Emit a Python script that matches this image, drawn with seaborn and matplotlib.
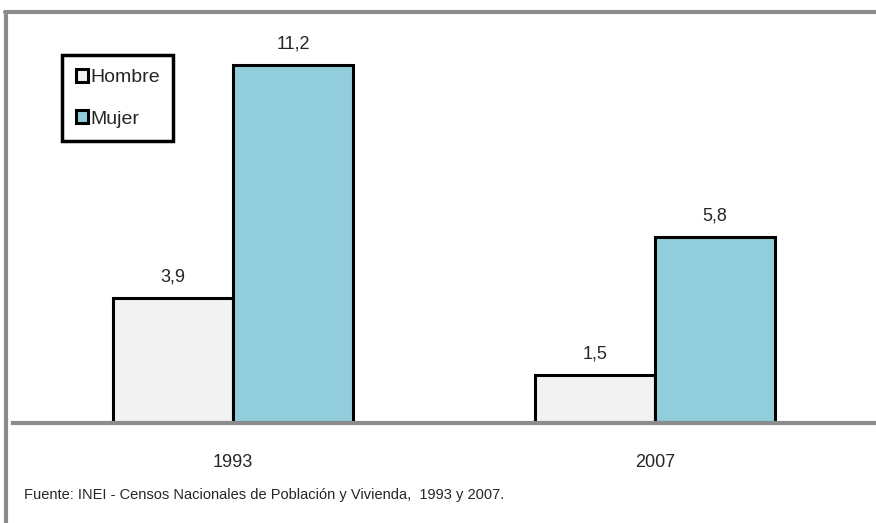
import pandas as pd
import matplotlib.pyplot as plt
import seaborn as sns
from matplotlib.lines import Line2D
from matplotlib.patches import Patch

years = ["1993", "2007"]
sexes = ["Hombre", "Mujer"]
hombre = [3.9, 1.5]
mujer = [11.2, 5.8]
colors = {"Hombre": "#F2F2F2", "Mujer": "#92CDDC"}
source = "Fuente: INEI - Censos Nacionales de Población y Vivienda,  1993 y 2007."

df = pd.DataFrame({
    "year": years * 2,
    "sex": ["Hombre"] * len(years) + ["Mujer"] * len(years),
    "value": hombre + mujer,
})

sns.set_theme(style="white")
plt.rcParams['font.family'] = ['Liberation Sans Narrow', 'Liberation Sans', 'DejaVu Sans']

W, H = 876, 523
fig = plt.figure(figsize=(W / 100, H / 100), dpi=100)
ax = fig.add_axes([13 / W, 100 / H, (W - 13) / W, 400 / H])

sns.barplot(data=df, x="year", y="value", hue="sex", order=years, hue_order=sexes,
            palette=colors, saturation=1, width=0.57, edgecolor="black", linewidth=2.2,
            legend=False, ax=ax)

for cont in ax.containers:
    labels = [f"{v:.1f}".replace(".", ",") for v in cont.datavalues]
    ax.bar_label(cont, labels=labels, padding=9, fontsize=13)

ax.set_ylim(0, 12.5)
ax.set_xlim(-0.521, 1.524)
ax.set_yticks([])
ax.set_xlabel("")
ax.set_ylabel("")
ax.tick_params(axis="x", length=0, pad=22, labelsize=13)
for s in ["top", "right", "left"]:
    ax.spines[s].set_visible(False)
ax.spines["bottom"].set_color("#8C8C8C")
ax.spines["bottom"].set_linewidth(3)
ax.patch.set_alpha(0)

handles = [Patch(facecolor=colors[s], edgecolor="black", linewidth=2.2, label=s) for s in sexes]
leg = fig.legend(handles=handles, loc="upper left", bbox_to_anchor=(62 / W, 1 - 55 / H),
                 borderaxespad=0, fontsize=14, frameon=True, fancybox=False, framealpha=1,
                 handlelength=0.65, handleheight=0.65, handletextpad=0.1,
                 borderpad=0.7, labelspacing=1.25)
leg.get_frame().set_edgecolor("black")
leg.get_frame().set_linewidth(2.5)

fig.add_artist(Line2D([5 / W, 1], [1 - 12 / H, 1 - 12 / H], color="#8C8C8C", lw=3))
fig.add_artist(Line2D([6 / W, 6 / W], [0, 1 - 12 / H], color="#8C8C8C", lw=3))

fig.text(24 / W, 1 - 495 / H, source, fontsize=10.5, va="center", ha="left")

fig.savefig("out.png", dpi=100)
